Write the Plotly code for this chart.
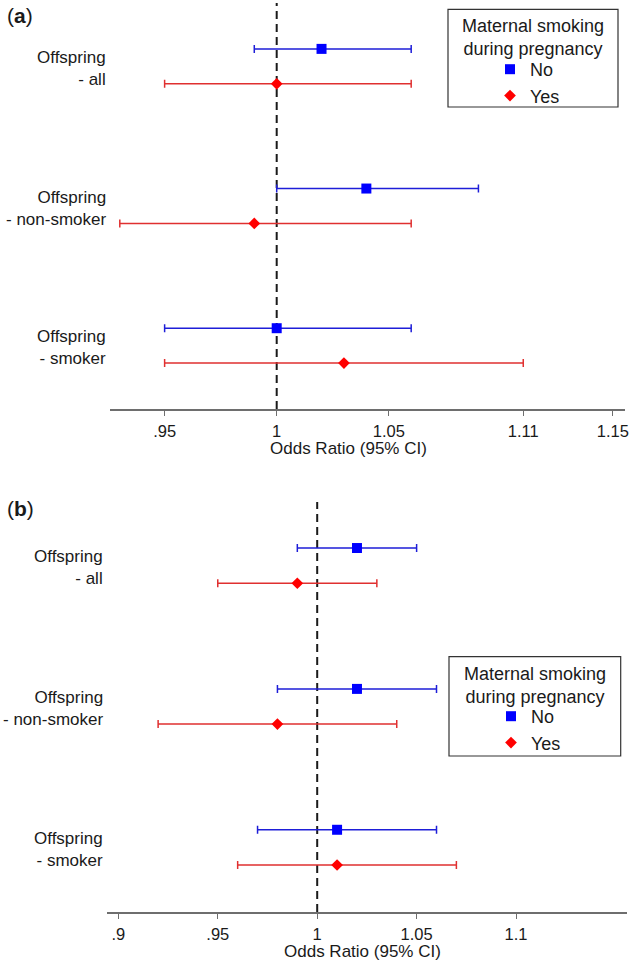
import plotly.graph_objects as go

W, H = 633, 961
FONT = "Liberation Sans, Arial, Helvetica, sans-serif"
TXT = "#1a1a1a"

# ---------------- data ----------------
groups = ["Offspring<br>- all", "Offspring<br>- non-smoker", "Offspring<br>- smoker"]
series = ["No", "Yes"]
legend_title = "Maternal smoking<br>during pregnancy"
x_title = "Odds Ratio (95% CI)"
ref_value = 1

# panel (a)
a_no_or = [1.02, 1.04, 1.00]
a_no_lo = [0.99, 1.00, 0.95]
a_no_hi = [1.06, 1.09, 1.06]
a_yes_or = [1.00, 0.99, 1.03]
a_yes_lo = [0.95, 0.93, 0.95]
a_yes_hi = [1.06, 1.06, 1.11]
a_tickvals = [0.95, 1.00, 1.05, 1.11, 1.15]
a_ticktext = [".95", "1", "1.05", "1.11", "1.15"]

# panel (b)
b_no_or = [1.02, 1.02, 1.01]
b_no_lo = [0.99, 0.98, 0.97]
b_no_hi = [1.05, 1.06, 1.06]
b_yes_or = [0.99, 0.98, 1.01]
b_yes_lo = [0.95, 0.92, 0.96]
b_yes_hi = [1.03, 1.04, 1.07]
b_tickvals = [0.90, 0.95, 1.00, 1.05, 1.10]
b_ticktext = [".9", ".95", "1", "1.05", "1.1"]

# ---------------- styling ----------------
COL = {"No": "#0000ff", "Yes": "#ff0000"}
LINECOL = {"No": "#1e1ed8", "Yes": "#e03030"}
SYM = {"No": "square", "Yes": "diamond"}
SIZE = {"No": 10, "Yes": 9}
OFFSET = {"No": -0.5, "Yes": 0.5}
group_pos = [4 * i for i in range(len(groups))]


def px(xp):
    return xp / W


def py(yp):
    return 1 - yp / H


fig = go.Figure()

panels = [
    dict(xa="x", ya="y", legend="legend",
         data={"No": (a_no_or, a_no_lo, a_no_hi), "Yes": (a_yes_or, a_yes_lo, a_yes_hi)}),
    dict(xa="x2", ya="y2", legend="legend2",
         data={"No": (b_no_or, b_no_lo, b_no_hi), "Yes": (b_yes_or, b_yes_lo, b_yes_hi)}),
]

for p in panels:
    for s in series:
        orv, lo, hi = p["data"][s]
        fig.add_trace(go.Scatter(
            x=orv,
            y=[g + OFFSET[s] for g in group_pos],
            mode="markers",
            name=s,
            xaxis=p["xa"], yaxis=p["ya"],
            legend=p["legend"],
            marker=dict(symbol=SYM[s], size=SIZE[s], color=COL[s], line=dict(width=0)),
            error_x=dict(type="data", symmetric=False,
                         array=[h - o for h, o in zip(hi, orv)],
                         arrayminus=[o - l for o, l in zip(orv, lo)],
                         color=LINECOL[s], thickness=1.5, width=4),
            hoverinfo="skip",
        ))

xaxis_common = dict(
    showgrid=False, zeroline=False, showline=True, linecolor="#6e6e6e", linewidth=1.6,
    ticks="outside", ticklen=5, tickwidth=1.4, tickcolor="#6e6e6e",
    tickfont=dict(family=FONT, size=16.5, color=TXT), automargin=False,
    ticklabelstandoff=1, fixedrange=True,
)
yaxis_common = dict(showgrid=False, zeroline=False, showline=False, showticklabels=False,
                    ticks="", automargin=False, fixedrange=True)

fig.update_layout(
    width=W, height=H,
    margin=dict(l=0, r=0, t=0, b=0),
    paper_bgcolor="white", plot_bgcolor="white",
    font=dict(family=FONT, color=TXT),
    xaxis=dict(xaxis_common, domain=[px(110), px(625)], range=[0.92563, 1.15539],
               tickvals=a_tickvals, ticktext=a_ticktext, anchor="y"),
    yaxis=dict(yaxis_common, domain=[py(409), py(3)], range=[9.814, -1.814], anchor="x"),
    xaxis2=dict(xaxis_common, domain=[px(107.3), px(626.7)], range=[0.89444, 1.15565],
                tickvals=b_tickvals, ticktext=b_ticktext, anchor="y2"),
    yaxis2=dict(yaxis_common, domain=[py(912), py(502)], range=[9.835, -1.807], anchor="x2"),
    legend=dict(x=px(490), y=py(51), xanchor="left", yanchor="top",
                bgcolor="rgba(0,0,0,0)", borderwidth=0,
                font=dict(family=FONT, size=18, color=TXT)),
    legend2=dict(x=px(491), y=py(698), xanchor="left", yanchor="top",
                 bgcolor="rgba(0,0,0,0)", borderwidth=0,
                 font=dict(family=FONT, size=18, color=TXT)),
    showlegend=True,
)

shapes = []
annotations = []

# reference dashed lines
for xa, ya in [("x", "y"), ("x2", "y2")]:
    shapes.append(dict(type="line", xref=xa, yref=f"{ya} domain", x0=ref_value, x1=ref_value,
                       y0=0, y1=1, line=dict(color=TXT, width=2, dash="8px,5px"), layer="below"))

# legend boxes and titles
for box, tc in [((448, 9.3, 618, 107), 37.0), ((449, 656.7, 620.7, 756), 685.0)]:
    x0, y0, x1, y1 = box
    shapes.append(dict(type="rect", xref="paper", yref="paper",
                       x0=px(x0), x1=px(x1), y0=py(y1), y1=py(y0),
                       line=dict(color="#333333", width=1.2), fillcolor="white", layer="below"))
    annotations.append(dict(text=legend_title, xref="paper", yref="paper", x=px((x0 + x1) / 2),
                            y=py(tc), xanchor="center", yanchor="middle", align="center",
                            showarrow=False, font=dict(family=FONT, size=18, color=TXT)))

# group labels
for ya, rx in [("y", 108), ("y2", 105)]:
    for g, lab in zip(group_pos, groups):
        annotations.append(dict(text=lab, xref="paper", yref=ya, x=px(rx), y=g, yshift=-2,
                                xanchor="right", yanchor="middle", align="right", showarrow=False,
                                font=dict(family=FONT, size=17, color=TXT)))

# axis titles
for yy, cx in [(449, 348), (951, 362)]:
    annotations.append(dict(text=x_title, xref="paper", yref="paper", x=px(cx),
                            y=py(yy), xanchor="center", yanchor="middle", showarrow=False,
                            font=dict(family=FONT, size=17, color=TXT)))

# panel labels
for lab, yy in [("(<b>a</b>)", 16), ("(<b>b</b>)", 508)]:
    annotations.append(dict(text=lab, xref="paper", yref="paper", x=px(5), y=py(yy),
                            xanchor="left", yanchor="middle", showarrow=False,
                            font=dict(family=FONT, size=21, color=TXT)))

fig.update_layout(shapes=shapes, annotations=annotations)

fig.write_html("out.html", config={"displayModeBar": False},
               post_script="document.body.style.margin='0';document.body.style.overflow='hidden';")
